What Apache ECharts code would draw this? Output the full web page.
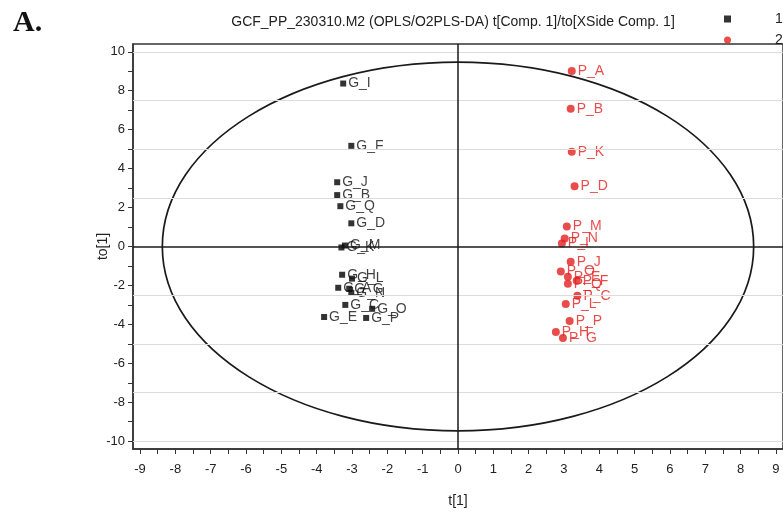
<!DOCTYPE html>
<html>
<head>
<meta charset="utf-8">
<script src="https://cdn.jsdelivr.net/npm/echarts@6/dist/echarts.min.js"></script>
<style>
  html, body { margin: 0; padding: 0; background: #fff; }
  #chart { width: 783px; height: 513px; }
</style>
</head>
<body>
<div id="chart"></div>
<script>
// class 1 (G samples)
const gNames = ['G_I', 'G_F', 'G_J', 'G_B', 'G_Q', 'G_D', 'G_M', 'G_K', 'G_H', 'G_L', 'G_A', 'G_G', 'G_N', 'G_C', 'G_O', 'G_E', 'G_P']
const gX = [-3.25, -3.02, -3.42, -3.42, -3.33, -3.02, -3.2, -3.3, -3.28, -3.0, -3.39, -3.08, -3.02, -3.19, -2.43, -3.79, -2.6]
const gY = [8.37, 5.17, 3.3, 2.64, 2.07, 1.19, 0.05, -0.05, -1.45, -1.65, -2.12, -2.17, -2.38, -3.0, -3.2, -3.62, -3.67]

// class 2 (P samples)
const pNames = ['P_A', 'P_B', 'P_K', 'P_D', 'P_M', 'P_N', 'P_I', 'P_J', 'P_O', 'P_E', 'P_Q', 'P_F', 'P_C', 'P_L', 'P_P', 'P_H', 'P_G']
const pX = [3.22, 3.19, 3.22, 3.3, 3.08, 3.02, 2.94, 3.19, 2.91, 3.11, 3.11, 3.36, 3.38, 3.05, 3.16, 2.77, 2.97]
const pY = [9.01, 7.08, 4.86, 3.1, 1.03, 0.41, 0.16, -0.78, -1.29, -1.55, -1.91, -1.76, -2.53, -2.95, -3.82, -4.39, -4.7]

// Hotelling T2 ellipse semi-axes
const ellipseA = 8.37
const ellipseB = 9.47

// ticks / labels
const xLabels = [-9, -8, -7, -6, -5, -4, -3, -2, -1, 0, 1, 2, 3, 4, 5, 6, 7, 8, 9]
const xTicks = [-9, -8.5, -8, -7.5, -7, -6.5, -6, -5.5, -5, -4.5, -4, -3.5, -3, -2.5, -2, -1.5, -1, -0.5, 0,
  0.5, 1, 1.5, 2, 2.5, 3, 3.5, 4, 4.5, 5, 5.5, 6, 6.5, 7, 7.5, 8, 8.5, 9]
const yLabels = [-10, -8, -6, -4, -2, 0, 2, 4, 6, 8, 10]
const yTicks = [-10, -9, -8, -7, -6, -5, -4, -3, -2, -1, 0, 1, 2, 3, 4, 5, 6, 7, 8, 9, 10]
const yGrid = [10, 7.5, 5, 2.5, -2.5, -5, -7.5, -10]

const RED = '#e4201e'
const FONT = 'Liberation Sans, Arial, sans-serif'

const gData = gNames.map((n, i) => [gX[i], gY[i], n])
const pData = pNames.map((n, i) => [pX[i], pY[i], n])

const chart = echarts.init(document.getElementById('chart'), null, { renderer: 'canvas' })

chart.setOption({
  animation: false,
  title: [
    {
      text: 'A.', left: 8, top: 3,
      textStyle: { fontFamily: 'Liberation Serif, serif', fontWeight: 'bold', fontSize: 30, color: '#111' }
    },
    {
      text: 'GCF_PP_230310.M2 (OPLS/O2PLS-DA) t[Comp. 1]/to[XSide Comp. 1]',
      left: 448, top: 10, textAlign: 'center',
      textStyle: { fontFamily: FONT, fontWeight: 'normal', fontSize: 14, color: '#222' }
    }
  ],
  legend: {
    orient: 'vertical', left: 719, top: 7, itemGap: 7,
    itemWidth: 7, itemHeight: 7,
    textStyle: { fontFamily: FONT, fontSize: 14, color: '#222', padding: [0, 0, 0, 39] },
    data: [
      { name: '1', icon: 'rect', itemStyle: { color: '#000' } },
      { name: '2', icon: 'circle', itemStyle: { color: RED } }
    ]
  },
  grid: {
    left: 133, top: 44, right: -2, bottom: 64,
    show: true, borderColor: '#333', borderWidth: 1.5
  },
  xAxis: {
    type: 'value', min: -9.2, max: 9.2,
    name: 't[1]', nameLocation: 'middle', nameGap: 45,
    nameTextStyle: { fontFamily: FONT, fontSize: 14, color: '#222' },
    axisLine: { onZero: false, lineStyle: { color: '#333', width: 1.5 } },
    axisTick: { show: true, length: 5, customValues: xTicks, lineStyle: { color: '#333' } },
    axisLabel: { customValues: xLabels, margin: 14, fontFamily: FONT, fontSize: 13, color: '#222' },
    splitLine: { show: false }
  },
  yAxis: {
    type: 'value', min: -10.4, max: 10.4,
    name: 'to[1]', nameLocation: 'middle', nameGap: 23, nameRotate: 90, nameMoveOverlap: false,
    nameTextStyle: { fontFamily: FONT, fontSize: 14, color: '#222' },
    axisLine: { onZero: false, lineStyle: { color: '#333', width: 1.5 } },
    axisTick: { show: true, length: 5, customValues: yTicks, lineStyle: { color: '#333' } },
    axisLabel: { customValues: yLabels, margin: 8, fontFamily: FONT, fontSize: 13, color: '#222' },
    splitLine: { show: false }
  },
  series: [
    {
      // reference lines + ellipse
      type: 'custom',
      silent: true,
      data: [[0, 0]],
      renderItem: (params, api) => {
        const c = api.coord([0, 0])
        const ex = api.coord([ellipseA, 0])
        const ey = api.coord([0, ellipseB])
        return {
          type: 'ellipse',
          shape: { cx: c[0], cy: c[1], rx: Math.abs(ex[0] - c[0]), ry: Math.abs(c[1] - ey[1]) },
          style: { fill: 'none', stroke: '#1a1a1a', lineWidth: 1.7 }
        }
      },
      markLine: {
        silent: true, symbol: 'none', label: { show: false },
        data: yGrid.map((v) => ({ yAxis: v, lineStyle: { color: '#dcdcdc', width: 1, type: 'solid' } }))
          .concat([
            { yAxis: 0, lineStyle: { color: '#1a1a1a', width: 1.5, type: 'solid' } },
            { xAxis: 0, lineStyle: { color: '#1a1a1a', width: 1.5, type: 'solid' } }
          ])
      },
      z: 1
    },
    {
      name: '1', type: 'scatter', data: gData,
      symbol: 'rect', symbolSize: 6,
      itemStyle: { color: '#000' },
      label: {
        show: true, position: 'right', distance: 2, formatter: (p) => p.value[2],
        fontFamily: FONT, fontSize: 14, color: '#111'
      },
      z: 3
    },
    {
      name: '2', type: 'scatter', data: pData,
      symbol: 'circle', symbolSize: 8,
      itemStyle: { color: RED },
      label: {
        show: true, position: 'right', distance: 2, formatter: (p) => p.value[2],
        fontFamily: FONT, fontSize: 14, color: RED
      },
      z: 3
    }
  ]
})
</script>
</body>
</html>
